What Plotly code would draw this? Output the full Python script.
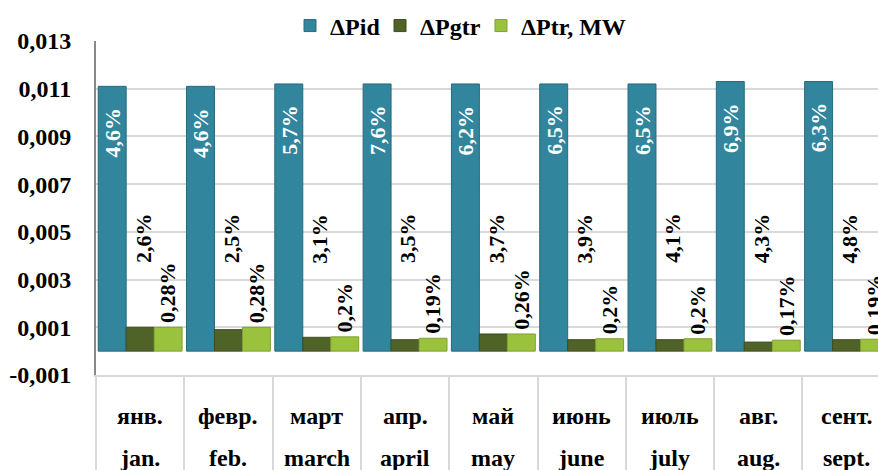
import plotly.graph_objects as go

# Monthly power-loss components, MW
months_ru = ["янв.", "февр.", "март", "апр.", "май", "июнь", "июль", "авг.", "сент."]
months_en = ["jan.", "feb.", "march", "april", "may", "june", "july", "aug.", "sept."]

p_id = [0.0111, 0.0111, 0.0112, 0.0112, 0.0112, 0.0112, 0.0112, 0.0113, 0.0113]
p_gtr = [0.00100, 0.00090, 0.00058, 0.00048, 0.00072, 0.00048, 0.00048, 0.00038, 0.00048]
p_tr = [0.00100, 0.00100, 0.00060, 0.00054, 0.00072, 0.00052, 0.00052, 0.00046, 0.00050]

# Share of each component, %
pid_pct = ["4,6%", "4,6%", "5,7%", "7,6%", "6,2%", "6,5%", "6,5%", "6,9%", "6,3%"]
gtr_pct = ["2,6%", "2,5%", "3,1%", "3,5%", "3,7%", "3,9%", "4,1%", "4,3%", "4,8%"]
tr_pct = ["0,28%", "0,28%", "0,2%", "0,19%", "0,26%", "0,2%", "0,2%", "0,17%", "0,19%"]

y_ticks = [-0.001, 0.001, 0.003, 0.005, 0.007, 0.009, 0.011, 0.013]
y_tick_text = ["-0,001", "0,001", "0,003", "0,005", "0,007", "0,009", "0,011", "0,013"]

FONT = "Liberation Serif"
C_ID = "#31859c"
C_GTR = "#4f6228"
C_TR = "#9bc23c"

BARGAP = 0.05
bar_w = (1 - BARGAP) / 3

fig = go.Figure()
fig.add_bar(x=months_en, y=p_id, name="ΔPid", legend="legend",
            marker=dict(color=C_ID, line=dict(color="#276a7c", width=1)))
fig.add_bar(x=months_en, y=p_gtr, name="ΔPgtr", legend="legend2",
            marker=dict(color=C_GTR, line=dict(color="#3d4c1f", width=1)))
fig.add_bar(x=months_en, y=p_tr, name="ΔPtr, MW", legend="legend3",
            marker=dict(color=C_TR, line=dict(color="#7fa030", width=1)))

annotations = []
lab_font = dict(family=FONT, size=22, weight="bold")
cat_font = dict(family=FONT, size=24, weight="bold", color="black")
for i in range(len(months_en)):
    # white share labels inside the ΔPid bars, just under the top
    annotations.append(dict(
        x=i - bar_w, y=p_id[i] - 0.0008, xref="x", yref="y", text=pid_pct[i],
        textangle=-90, showarrow=False, xanchor="center", yanchor="top",
        font=dict(lab_font, color="white")))
    # ΔPgtr shares, set at a common height above the small bars
    annotations.append(dict(
        x=i + 0.03, y=0.0036, xref="x", yref="y", text=gtr_pct[i],
        textangle=-90, showarrow=False, xanchor="center", yanchor="bottom",
        font=dict(lab_font, color="black")))
    # ΔPtr shares, just above their bars
    annotations.append(dict(
        x=i + bar_w, y=p_tr[i], xref="x", yref="y", yshift=2, text=tr_pct[i],
        textangle=-90, showarrow=False, xanchor="center", yanchor="bottom",
        font=dict(lab_font, color="black")))
    # two-row category table under the plot
    annotations.append(dict(
        x=i, y=-0.1224, xref="x", yref="paper", text=months_ru[i], showarrow=False,
        xanchor="center", yanchor="middle", font=cat_font))
    annotations.append(dict(
        x=i, y=-0.2484, xref="x", yref="paper", text=months_en[i], showarrow=False,
        xanchor="center", yanchor="middle", font=cat_font))

legend_style = dict(orientation="h", xanchor="left", y=1.045, yanchor="middle",
                    font=dict(family=FONT, size=24, weight="bold", color="black"),
                    bgcolor="rgba(0,0,0,0)", itemwidth=30)

fig.update_layout(
    width=878, height=470,
    margin=dict(l=96, r=0, t=41, b=87),
    paper_bgcolor="white", plot_bgcolor="white",
    barmode="group", bargap=BARGAP, bargroupgap=0,
    font=dict(family=FONT, color="black"),
    showlegend=True,
    legend=dict(legend_style, x=0.2481),
    legend2=dict(legend_style, x=0.3632),
    legend3=dict(legend_style, x=0.4923),
    annotations=annotations,
    xaxis=dict(
        range=[-0.5, 8.356], showticklabels=False, showgrid=False, zeroline=False,
        tickson="boundaries", ticks="outside", ticklen=95, tickwidth=2, tickcolor="#d9d9d9",
        showline=True, linecolor="#d9d9d9", linewidth=2,
    ),
    yaxis=dict(
        range=[-0.001, 0.013], tickmode="array", tickvals=y_ticks, ticktext=y_tick_text,
        showgrid=True, gridcolor="#d9d9d9", gridwidth=2, zeroline=False,
        showline=True, linecolor="#888888", linewidth=2, ticks="",
        ticklabelstandoff=18,
        tickfont=dict(family=FONT, size=24, weight="bold", color="black"),
    ),
)

fig.write_html("out.html")
